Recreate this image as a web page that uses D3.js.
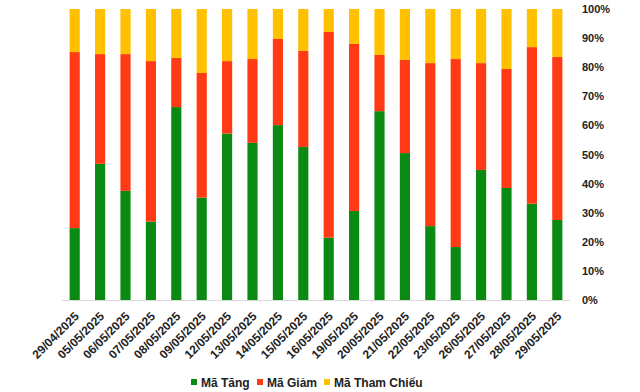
<!DOCTYPE html>
<html><head><meta charset="utf-8">
<script src="https://cdn.jsdelivr.net/npm/d3@7"></script>
<style>body{margin:0;background:#fff;}svg{display:block;font-family:"Liberation Sans",Arial,sans-serif;}</style>
</head><body><svg id="c" width="640" height="392"></svg>
<script>
const dates = ["29/04/2025","05/05/2025","06/05/2025","07/05/2025","08/05/2025","09/05/2025","12/05/2025","13/05/2025","14/05/2025","15/05/2025","16/05/2025","19/05/2025","20/05/2025","21/05/2025","22/05/2025","23/05/2025","26/05/2025","27/05/2025","28/05/2025","29/05/2025"];
const maTang = [24.7,46.8,37.5,26.9,66.3,35.2,57.2,54.0,60.1,52.6,21.4,30.6,64.9,50.5,25.4,18.2,44.7,38.5,33.1,27.5];
const maGiam = [60.5,37.7,47.0,55.2,16.9,42.8,24.9,28.8,29.6,33.0,70.7,57.4,19.3,32.0,56.0,64.6,36.7,40.9,53.8,56.0];
const maThamChieu = maTang.map((v,i)=>100 - v - maGiam[i]);
const seriesNames = ["Mã Tăng","Mã Giảm","Mã Tham Chiếu"];
const colors = ["#0b8a13","#ff3a14","#ffc000"];
const yTicks = [0,10,20,30,40,50,60,70,80,90,100];

const svg = d3.select("#c");
const x = d3.scaleBand().domain(dates).range([62,570]).paddingInner(0.6).paddingOuter(0.3);
const y = d3.scaleLinear().domain([0,100]).range([300,9]);

const rows = dates.map((d,i)=>({date:d,"Mã Tăng":maTang[i],"Mã Giảm":maGiam[i],"Mã Tham Chiếu":maThamChieu[i]}));
const stack = d3.stack().keys(seriesNames)(rows);

svg.append("g").selectAll("g").data(stack).join("g")
  .attr("fill",(d,i)=>colors[i])
  .selectAll("rect").data(d=>d).join("rect")
  .attr("x",d=>x(d.data.date))
  .attr("width",x.bandwidth())
  .attr("y",d=>y(d[1]))
  .attr("height",d=>y(d[0])-y(d[1]));

// baseline
svg.append("line").attr("x1",62).attr("x2",570).attr("y1",y(0)+0.5).attr("y2",y(0)+0.5)
  .attr("stroke","#d9d9d9").attr("stroke-width",1);

// right y axis labels
const yAxis = d3.axisRight(y).tickValues(yTicks).tickFormat(d=>d+"%").tickSize(0).tickPadding(0);
const ga = svg.append("g").attr("transform","translate(582,0)").call(yAxis);
ga.select(".domain").remove();
ga.selectAll("text").attr("font-size","11px").attr("font-weight","bold").attr("fill","#222")
  .attr("font-family","'Liberation Sans',Arial,sans-serif");

// x labels
const xAxis = d3.axisBottom(x).tickSize(0).tickPadding(0);
const gx = svg.append("g").attr("transform","translate(0,300)").call(xAxis);
gx.select(".domain").remove();
gx.selectAll("text")
  .attr("font-size","12px").attr("font-weight","bold").attr("fill","#222")
  .attr("font-family","'Liberation Sans',Arial,sans-serif")
  .attr("text-anchor","end").attr("dy","0.35em")
  .attr("transform","translate(2,14) rotate(-45)");

// legend
const legX = [191,257,324];
const lg = svg.append("g");
seriesNames.forEach((n,i)=>{
  lg.append("rect").attr("x",legX[i]).attr("y",379).attr("width",6).attr("height",6).attr("fill",colors[i]);
  lg.append("text").attr("x",legX[i]+10).attr("y",387).text(n)
    .attr("font-size","12px").attr("font-weight","bold").attr("fill","#222");
});
</script></body></html>
